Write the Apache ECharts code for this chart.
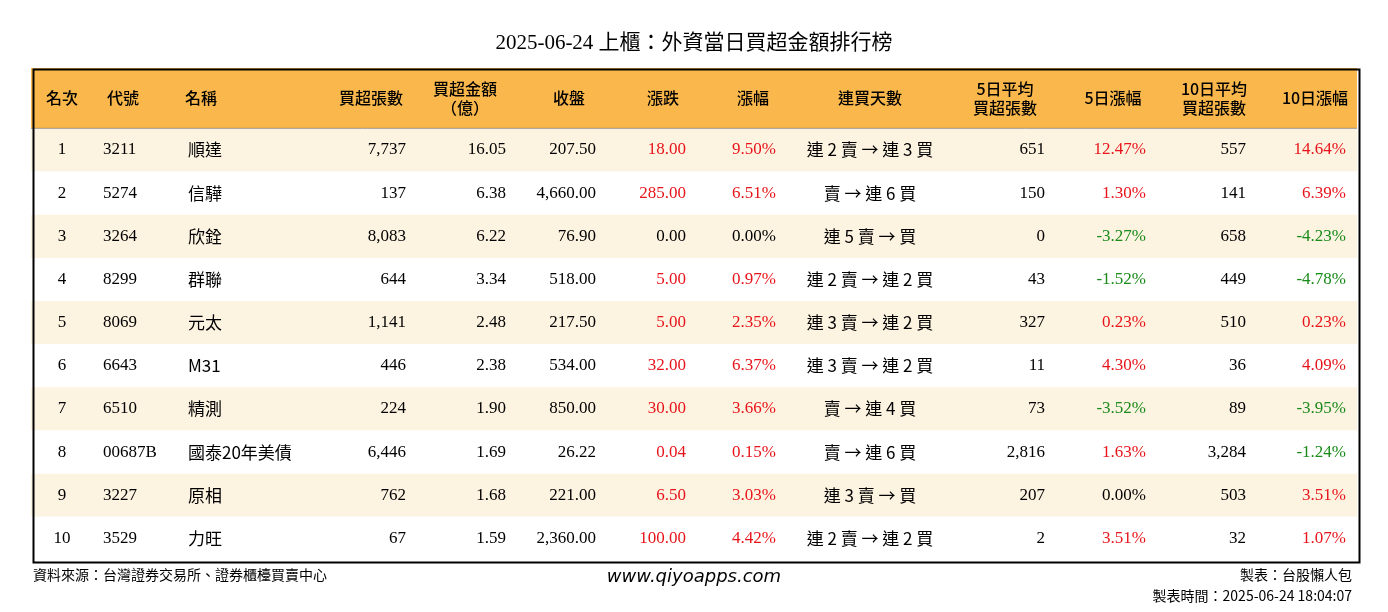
<!DOCTYPE html>
<html>
<head>
<meta charset="utf-8">
<script src="https://cdn.jsdelivr.net/npm/echarts@6/dist/echarts.min.js"></script>
<style>html,body{margin:0;padding:0;background:#fff}#chart{width:1388px;height:612px}</style>
</head>
<body>
<div id="chart"></div>
<script>
var headers = ['名次', '代號', '名稱', '買超張數', '買超金額\n（億）', '收盤', '漲跌', '漲幅', '連買天數', '5日平均\n買超張數', '5日漲幅', '10日平均\n買超張數', '10日漲幅'];
var ranks = ['1', '2', '3', '4', '5', '6', '7', '8', '9', '10'];
var codes = ['3211', '5274', '3264', '8299', '8069', '6643', '6510', '00687B', '3227', '3529'];
var names = ['順達', '信驊', '欣銓', '群聯', '元太', 'M31', '精測', '國泰20年美債', '原相', '力旺'];
var buyLots = ['7,737', '137', '8,083', '644', '1,141', '446', '224', '6,446', '762', '67'];
var buyAmt = ['16.05', '6.38', '6.22', '3.34', '2.48', '2.38', '1.90', '1.69', '1.68', '1.59'];
var closes = ['207.50', '4,660.00', '76.90', '518.00', '217.50', '534.00', '850.00', '26.22', '221.00', '2,360.00'];
var changes = ['18.00', '285.00', '0.00', '5.00', '5.00', '32.00', '30.00', '0.04', '6.50', '100.00'];
var pcts = ['9.50%', '6.51%', '0.00%', '0.97%', '2.35%', '6.37%', '3.66%', '0.15%', '3.03%', '4.42%'];
var streaks = ['連 2 賣 → 連 3 買', '賣 → 連 6 買', '連 5 賣 → 買', '連 2 賣 → 連 2 買', '連 3 賣 → 連 2 買', '連 3 賣 → 連 2 買', '賣 → 連 4 買', '賣 → 連 6 買', '連 3 賣 → 買', '連 2 賣 → 連 2 買'];
var avg5 = ['651', '150', '0', '43', '327', '11', '73', '2,816', '207', '2'];
var pct5 = ['12.47%', '1.30%', '-3.27%', '-1.52%', '0.23%', '4.30%', '-3.52%', '1.63%', '0.00%', '3.51%'];
var avg10 = ['557', '141', '658', '449', '510', '36', '89', '3,284', '503', '32'];
var pct10 = ['14.64%', '6.39%', '-4.23%', '-4.78%', '0.23%', '4.09%', '-3.95%', '-1.24%', '3.51%', '1.07%'];

// column anchors (grid-relative px) and alignment
var colX = [31, 72, 157, 375, 475, 565, 655, 745, 839, 1014, 1115, 1215, 1315];
var colAlign = ['center', 'left', 'left', 'right', 'right', 'right', 'right', 'right', 'center', 'right', 'right', 'right', 'right'];
var headX = [31, 92, 170, 340, 434, 538, 632, 722, 839, 974, 1082, 1183, 1284];

function signColor(s) {
    var v = parseFloat(s);
    if (v > 0) return '#e8141b';
    if (v < 0) return '#1a8a1a';
    return '#000';
}

var chart = echarts.init(document.getElementById('chart'));
var serif = '"Liberation Serif", "Noto Sans CJK TC", serif';
var cjk = '"Noto Sans CJK TC", sans-serif';

function renderItem(params, api) {
    var idx = api.value(0);
    var y0 = idx === 0 ? 0 : 1.4 + idx - 1;
    var y1 = idx === 0 ? 1.4 : y0 + 1;
    var p0 = api.coord([0, y0]);
    var p1 = api.coord([1326, y1]);
    var ym = (p0[1] + p1[1]) / 2;
    var children = [{
        type: 'rect',
        shape: { x: p0[0], y: p0[1], width: p1[0] - p0[0], height: p1[1] - p0[1] },
        style: { fill: idx === 0 ? '#fab84c' : (idx % 2 === 1 ? '#fdf3e1' : '#ffffff') }
    }];
    if (idx === 0) {
        children.push({ type: 'line', shape: { x1: p0[0], y1: p1[1], x2: p1[0], y2: p1[1] }, style: { stroke: '#555', lineWidth: 1 } });
        for (var c = 0; c < headers.length; c++) {
            children.push({
                type: 'text',
                style: { text: headers[c], x: api.coord([headX[c], 0])[0], y: ym, align: 'center', verticalAlign: 'middle', font: '500 16px ' + cjk, fill: '#000', lineHeight: 19 }
            });
        }
    } else {
        var i = idx - 1;
        var vals = [ranks[i], codes[i], names[i], buyLots[i], buyAmt[i], closes[i], changes[i], pcts[i], streaks[i], avg5[i], pct5[i], avg10[i], pct10[i]];
        for (var c = 0; c < vals.length; c++) {
            var col = '#000';
            if (c === 6 || c === 7) col = signColor(vals[c]);
            if (c === 10 || c === 12) col = signColor(vals[c]);
            var f = (c === 2 || c === 8) ? '17px ' + cjk : '17px ' + serif;
            children.push({
                type: 'text',
                style: { text: vals[c], x: api.coord([colX[c], 0])[0], y: ym, align: colAlign[c], verticalAlign: 'middle', font: f, fill: col }
            });
        }
    }
    return { type: 'group', children: children };
}

var rowIdx = [0].concat(ranks.map(function (r, i) { return [i + 1]; }));

chart.setOption({
    animation: false,
    title: {
        text: '2025-06-24 上櫃：外資當日買超金額排行榜',
        left: 'center', top: 28,
        textStyle: { fontFamily: serif, fontSize: 21, fontWeight: 'normal', color: '#000' }
    },
    grid: { left: 31, right: 31, top: 68, bottom: 52, show: false },
    xAxis: { type: 'value', min: 0, max: 1326, show: false },
    yAxis: { type: 'value', min: 0, max: 11.4, inverse: true, show: false },
    series: [{
        type: 'custom',
        renderItem: renderItem,
        data: rowIdx.map(function (v) { return [Array.isArray(v) ? v[0] : v]; }),
        encode: { x: -1, y: 0 },
        clip: false
    }],
    graphic: [
        { type: 'rect', left: 31, top: 67, shape: { width: 1326, height: 493 }, style: { fill: 'none', stroke: '#000', lineWidth: 2 }, z: 100 },
        { type: 'text', left: 33, top: 568, style: { text: '資料來源：台灣證券交易所、證券櫃檯買賣中心', font: '14px ' + cjk, fill: '#000' } },
        { type: 'text', left: 'center', top: 568, style: { text: 'www.qiyoapps.com', font: 'italic 18px "DejaVu Sans", sans-serif', fill: '#000' } },
        { type: 'text', right: 36, top: 568, style: { text: '製表：台股懶人包', font: '14px ' + cjk, fill: '#000' } },
        { type: 'text', right: 36, top: 589, style: { text: '製表時間：2025-06-24 18:04:07', font: '14px ' + cjk, fill: '#000' } }
    ]
});
</script>
</body>
</html>
